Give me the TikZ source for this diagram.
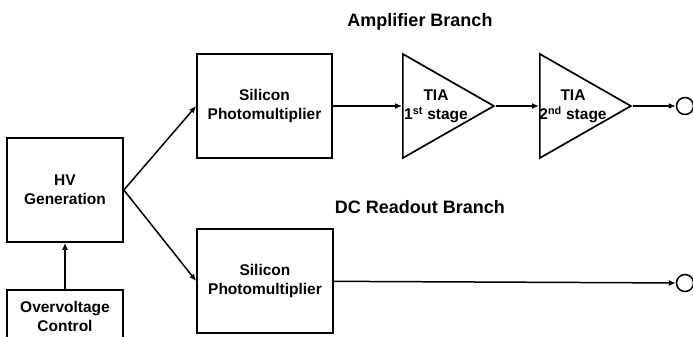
\documentclass[tikz,border=0pt]{standalone}
\usepackage{fontspec}
\setmainfont{Liberation Sans}
\usetikzlibrary{arrows.meta,positioning,shapes.geometric}
\newcommand{\stagetext}[1]{\makebox[0pt]{\hspace{28pt}\begin{tabular}{@{}c@{}}#1\end{tabular}}}
\tikzset{
    blockbox/.style={rectangle,draw,line width=1.7pt,align=center,inner sep=0pt,font=\fontsize{15.5}{19}\selectfont\bfseries},
    ampstage/.style={isosceles triangle,isosceles triangle stretches,draw,line width=1.7pt,inner sep=0pt,minimum width=104pt,minimum height=91pt,anchor=lower side,font=\fontsize{15.5}{19}\selectfont\bfseries},
    outport/.style={circle,draw,line width=1.5pt,minimum size=17pt,inner sep=0pt},
    branchtitle/.style={font=\fontsize{18}{22}\selectfont\bfseries},
    sigline/.style={-{Latex[length=7pt,width=6pt]},line width=1.5pt}
}

\begin{document}
\begin{tikzpicture}[x=1pt,y=-1pt]
    \useasboundingbox (0,0) rectangle (693,337);
    \node[branchtitle] (ampttl) at (420,22) {Amplifier Branch};
    \node[branchtitle] (dcttl) at (420,207) {DC Readout Branch};
    \node[blockbox,minimum width=116pt,minimum height=104pt] (hv) at (65,190) {HV\\Generation};
    \node[blockbox,minimum width=116pt,minimum height=52pt] (ovc) at (65,316) {Overvoltage\\Control};
    \node[blockbox,minimum width=135pt,minimum height=104pt] (sipma) at (264.5,106) {Silicon\\Photomultiplier};
    \node[blockbox,minimum width=136pt,minimum height=104pt] (sipmb) at (265,281) {Silicon\\Photomultiplier};
    \node[ampstage] (tiaa) at (402,106) {\stagetext{TIA\\1\textsuperscript{st} stage}};
    \node[ampstage] (tiab) at (539,106) {\stagetext{TIA\\2\textsuperscript{nd} stage}};
    \node[outport] (outa) at (685,106) {};
    \node[outport] (outb) at (685,283) {};
    \draw[sigline] (ovc) -- (hv);
    \draw[sigline] (hv.east) -- (sipma.west);
    \draw[sigline] (hv.east) -- (sipmb.west);
    \draw[sigline] (sipma) -- (tiaa.lower side);
    \draw[sigline] (tiaa.apex) -- (tiab.lower side);
    \draw[sigline] (tiab.apex) -- (outa);
    \draw[sigline] (sipmb) -- (outb);
\end{tikzpicture}
\end{document}
